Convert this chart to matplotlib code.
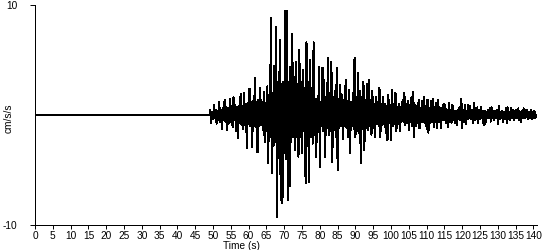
import numpy as np
import matplotlib
matplotlib.use("Agg")
import matplotlib.pyplot as plt

plt.rcParams['font.family'] = ['Liberation Sans', 'DejaVu Sans']

# Record: quiet until onset, then samples every 0.25 s (cm/s/s)
onset_time = 49.0
sample_step = 0.25
accel = [
    0.0, 0.5, -0.7, 0.3, -0.4, 0.9, -0.3, 0.5,
    -0.8, 0.4, -0.5, 1.2, -0.6, 0.5, -1.3, 0.6,
    -0.5, 1.4, -0.6, 0.7, -1.4, 0.6, -0.7, 1.5,
    -0.6, 0.8, -1.1, 1.6, -0.5, 0.9, -1.5, 0.7,
    -2.1, 0.8, -0.7, 1.9, -0.9, 0.8, -1.3, 2.0,
    -0.9, 1.0, -3.0, 1.1, -0.8, 2.4, -1.0, 1.2,
    -2.9, 1.3, -1.0, 3.4, -1.1, 1.2, -3.4, 1.4,
    -1.0, 2.5, -0.9, 1.2, -1.4, 2.1, -2.5, 1.1,
    -1.5, 2.6, -4.4, 1.8, -2.0, 8.8, -5.3, 2.0,
    -2.8, 4.5, -2.5, 8.0, -9.3, 3.0, -3.5, 6.8,
    -7.7, 2.8, -8.0, 3.0, -3.5, 9.5, -4.0, 9.5,
    -7.7, 3.0, -6.5, 4.4, -2.5, 7.4, -2.0, 3.5,
    -3.2, 4.8, -2.0, 2.8, -3.8, 5.9, -2.0, 3.0,
    -3.5, 4.1, -1.5, 2.5, -6.2, 6.6, -2.8, 3.0,
    -6.1, 5.0, -2.0, 2.5, -2.6, 6.6, -1.8, 1.5,
    -3.8, 1.5, -1.2, 4.4, -4.7, 1.2, -1.0, 4.3,
    -1.5, 3.2, -3.8, 1.6, -1.2, 5.2, -1.8, 2.0,
    -1.5, 4.8, -4.3, 1.6, -1.4, 2.2, -2.0, 4.3,
    -5.0, 1.5, -1.2, 2.7, -1.0, 1.8, -2.2, 1.4,
    -1.0, 3.2, -1.2, 1.3, -2.0, 2.3, -3.5, 1.2,
    -1.0, 2.0, -1.3, 5.2, -2.0, 1.6, -1.5, 3.8,
    -1.6, 2.2, -4.4, 1.6, -1.3, 3.0, -3.2, 1.4,
    -1.2, 2.8, -1.4, 3.2, -1.0, 1.4, -1.8, 2.2,
    -1.2, 1.0, -2.0, 1.6, -0.8, 1.2, -1.0, 2.5,
    -2.0, 1.0, -0.9, 1.6, -0.8, 1.0, -1.6, 0.8,
    -2.3, 1.8, -0.7, 0.9, -2.3, 2.3, -1.0, 1.0,
    -0.8, 2.0, -1.5, 0.7, -0.8, 1.0, -1.5, 0.7,
    -0.6, 1.4, -0.6, 2.0, -0.9, 1.0, -0.7, 1.3,
    -1.4, 0.9, -0.6, 1.6, -1.0, 2.1, -2.0, 0.9,
    -1.0, 0.8, -0.7, 1.4, -1.2, 0.6, -0.6, 1.3,
    -0.6, 1.6, -0.7, 0.8, -1.3, 1.4, -1.6, 0.6,
    -0.7, 1.3, -0.6, 1.5, -1.1, 0.7, -0.6, 1.1,
    -1.2, 1.4, -0.6, 0.6, -1.2, 0.6, -0.5, 1.0,
    -0.5, 0.9, -0.7, 0.5, -1.1, 1.1, -0.6, 0.5,
    -0.7, 0.9, -0.5, 0.4, -0.7, 0.4, -0.9, 0.5,
    -0.4, 0.7, -0.5, 1.5, -1.2, 0.5, -0.6, 0.9,
    -0.8, 0.4, -0.4, 0.9, -0.3, 0.8, -0.4, 0.5,
    -0.7, 1.1, -0.5, 0.6, -0.4, 0.7, -0.7, 0.5,
    -0.4, 0.7, -0.3, 0.4, -0.9, 0.4, -0.8, 0.3,
    -0.3, 0.5, -0.3, 0.6, -0.6, 0.7, -0.3, 0.4,
    -0.5, 0.4, -0.3, 0.5, -0.8, 0.8, -0.4, 0.3,
    -0.3, 0.4, -0.6, 0.3, -0.4, 0.6, -0.7, 0.7,
    -0.4, 0.3, -0.5, 0.6, -0.3, 0.5, -0.5, 0.4,
    -0.3, 0.5, -0.3, 0.6, -0.5, 0.3, -0.6, 0.4,
    -0.3, 0.6, -0.3, 0.5, -0.2, 0.5, -0.4, 0.3,
    -0.3, 0.5, -0.4, 0.3, -0.3, 0.4, -0.3, 0.0,
]
x_ticks = list(range(0, 141, 5))
y_ticks = [-10, 10]

t_active = onset_time + sample_step * np.arange(len(accel))

fig = plt.figure(figsize=(5.5, 2.5), dpi=100)
ax = fig.add_axes([35 / 550, 25 / 250, 502 / 550, 220 / 250])
# quiet pre-event record (zero until onset)
ax.plot([0.0, onset_time], [0.0, accel[0]], color='black', lw=1.44,
        antialiased=False, solid_capstyle='butt')
ax.plot(t_active, accel, color='black', lw=0.75, antialiased=False)

ax.set_xlim(0, 141)
ax.set_ylim(-10, 10)
for s in ('top', 'right'):
    ax.spines[s].set_visible(False)
for s in ('left', 'bottom'):
    ax.spines[s].set_linewidth(0.7)
    ax.spines[s].set_antialiased(False)

ax.set_xticks(x_ticks)
ax.set_xticklabels([str(v) for v in x_ticks])
ax.set_yticks(y_ticks)
ax.set_yticklabels([str(v) for v in y_ticks])
ax.tick_params(axis='x', direction='out', length=3, width=0.7, pad=1.5, labelsize=7.3)
ax.tick_params(axis='y', direction='out', length=3.6, width=0.7, pad=9, labelsize=7.3)

ax.set_xlabel('Time (s)', fontsize=7.3)
ax.xaxis.set_label_coords(206 / 502, -0.072)
ax.set_ylabel('cm/s/s', fontsize=7.3)
ax.yaxis.set_label_coords(-0.043, 0.486)

fig.savefig('out.png', dpi=100)
